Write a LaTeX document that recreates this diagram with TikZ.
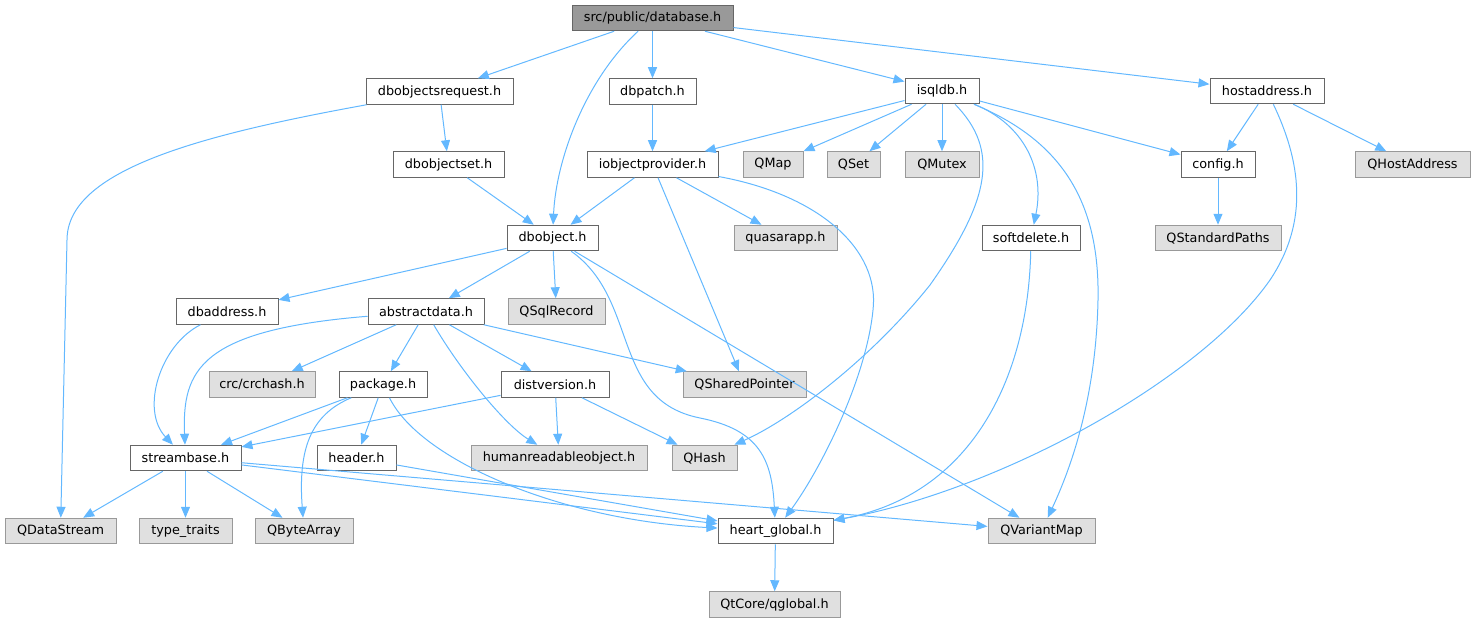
\documentclass[tikz,border=0pt]{standalone}
\usepackage{fontspec}
\setmainfont{DejaVu Sans}
\usetikzlibrary{arrows.meta}
\definecolor{edgeblue}{HTML}{63B8FF}
\definecolor{boxline}{HTML}{666666}
\definecolor{extline}{HTML}{999999}
\definecolor{extfill}{HTML}{E0E0E0}
\definecolor{mainfill}{HTML}{999999}
\begin{document}
\begin{tikzpicture}[x=1pt,y=-1pt]

		\tikzstyle{every node}=[font=\fontsize{12.8}{15}\selectfont]
		\tikzstyle{file}=[draw=boxline,fill=white,line width=1pt,minimum height=25.5pt,inner sep=0pt]
		\tikzstyle{main}=[file,fill=mainfill]
		\tikzstyle{ext}=[file,draw=extline,fill=extfill]
		\tikzstyle{dep}=[draw=edgeblue,line width=1pt,-{Triangle[length=11pt,width=9pt]}]

		\useasboundingbox (0,0) rectangle (1475,623);

		% top rows
		\node[main,minimum width=161pt] (dbh) at (652.5,18) {src/public/database.h};
		\node[file,minimum width=147pt] (dbreq) at (439.5,91.5) {dbobjectsrequest.h};
		\node[file,minimum width=87pt] (dbpatch) at (652.5,91.5) {dbpatch.h};
		\node[file,minimum width=74pt] (isqldb) at (942,91) {isqldb.h};
		\node[file,minimum width=114pt] (hostaddr) at (1267,91) {hostaddress.h};

		\node[file,minimum width=111pt] (dbset) at (448.5,164.5) {dbobjectset.h};
		\node[file,minimum width=131pt] (iobjprov) at (652.5,164.5) {iobjectprovider.h};
		\node[ext,minimum width=60pt] (qmap) at (773,164.5) {QMap};
		\node[ext,minimum width=53pt] (qset) at (853.5,164.5) {QSet};
		\node[ext,minimum width=74pt] (qmutex) at (942,164.5) {QMutex};
		\node[file,minimum width=74pt] (config) at (1218,164.5) {config.h};
		\node[ext,minimum width=115pt] (qhostaddr) at (1412.5,164.5) {QHostAddress};

		\node[file,minimum width=91pt] (dbobj) at (552.5,238) {dbobject.h};
		\node[ext,minimum width=103pt] (quasar) at (785.5,238) {quasarapp.h};
		\node[file,minimum width=98pt] (softdel) at (1031,238) {softdelete.h};
		\node[ext,minimum width=126pt] (qstdpaths) at (1218,238) {QStandardPaths};

		% middle rows
		\node[file,minimum width=102pt] (dbaddr) at (227,311.5) {dbaddress.h};
		\node[file,minimum width=116pt] (absdata) at (426,311.5) {abstractdata.h};
		\node[ext,minimum width=97pt] (qsqlrec) at (556.5,311.5) {QSqlRecord};

		\node[ext,minimum width=106pt] (crchash) at (262,384.5) {crc/crchash.h};
		\node[file,minimum width=88pt] (package) at (383,384.5) {package.h};
		\node[file,minimum width=108pt] (distver) at (555,384.5) {distversion.h};
		\node[ext,minimum width=123pt] (qsharedptr) at (744.5,384.5) {QSharedPointer};

		\node[file,minimum width=111pt] (streambase) at (185.5,458) {streambase.h};
		\node[file,minimum width=79pt] (header) at (356.5,458) {header.h};
		\node[ext,minimum width=176pt] (humread) at (559,458) {humanreadableobject.h};
		\node[ext,minimum width=65pt] (qhash) at (704.5,458) {QHash};

		% bottom rows
		\node[ext,minimum width=111pt] (qdatastream) at (60.5,531) {QDataStream};
		\node[ext,minimum width=93pt] (typetraits) at (185.5,531) {type\_traits};
		\node[ext,minimum width=98pt] (qbytearray) at (304,531) {QByteArray};
		\node[file,minimum width=115pt] (heart) at (775.5,531) {heart\_global.h};
		\node[ext,minimum width=107pt] (qvariantmap) at (1041.5,531) {QVariantMap};
		\node[ext,minimum width=131pt] (qglobal) at (774.5,604.5) {QtCore/qglobal.h};

		% database.h
		\draw[dep] (dbh) -- (dbreq);
		\draw[dep] (dbh) .. controls (585,80) and (556,160) .. (dbobj);
		\draw[dep] (dbh) -- (dbpatch);
		\draw[dep] (dbh) -- (isqldb);
		\draw[dep] (dbh) -- (hostaddr);

		\draw[dep] (dbreq) -- (dbset);
		\draw[dep] (dbreq) .. controls (200,135) and (67,170) .. (67,240) -- (qdatastream);
		\draw[dep] (dbpatch) -- (iobjprov);
		\draw[dep] (dbset) -- (dbobj);

		% iobjectprovider.h
		\draw[dep] (iobjprov) -- (dbobj);
		\draw[dep] (iobjprov) -- (quasar);
		\draw[dep] (iobjprov) -- (qsharedptr);
		\draw[dep] (iobjprov) .. controls (820,195) and (880,250) .. (873,310) .. controls (866,380) and (820,470) .. (heart);

		% isqldb.h
		\draw[dep] (isqldb) -- (iobjprov);
		\draw[dep] (isqldb) -- (qmap);
		\draw[dep] (isqldb) -- (qset);
		\draw[dep] (isqldb) -- (qmutex);
		\draw[dep] (isqldb) .. controls (1000,150) and (990,200) .. (930,285) .. controls (870,360) and (790,420) .. (qhash);
		\draw[dep] (isqldb) .. controls (1025,125) and (1045,170) .. (softdel);
		\draw[dep] (isqldb) .. controls (1060,140) and (1100,200) .. (1098,300) .. controls (1096,400) and (1070,470) .. (qvariantmap);
		\draw[dep] (isqldb) -- (config);

		% hostaddress.h
		\draw[dep] (hostaddr) -- (config);
		\draw[dep] (hostaddr) -- (qhostaddr);
		\draw[dep] (hostaddr) .. controls (1300,160) and (1310,220) .. (1270,280) .. controls (1200,380) and (1000,490) .. (heart);
		\draw[dep] (config) -- (qstdpaths);
		\draw[dep] (softdel) .. controls (1028,380) and (970,495) .. (heart);

		% dbobject.h
		\draw[dep] (dbobj) -- (dbaddr);
		\draw[dep] (dbobj) -- (absdata);
		\draw[dep] (dbobj) -- (qsqlrec);
		\draw[dep] (dbobj) .. controls (640,300) and (610,400) .. (700,418) .. controls (760,430) and (772,460) .. (heart);
		\draw[dep] (dbobj) -- (qvariantmap);

		\draw[dep] (dbaddr) .. controls (160,345) and (140,410) .. (streambase);

		% abstractdata.h
		\draw[dep] (absdata) .. controls (200,330) and (182,370) .. (streambase);
		\draw[dep] (absdata) -- (crchash);
		\draw[dep] (absdata) -- (package);
		\draw[dep] (absdata) .. controls (460,370) and (505,425) .. (humread);
		\draw[dep] (absdata) -- (distver);
		\draw[dep] (absdata) -- (qsharedptr);

		% package.h
		\draw[dep] (package) -- (streambase);
		\draw[dep] (package) .. controls (310,415) and (298,450) .. (qbytearray);
		\draw[dep] (package) -- (header);
		\draw[dep] (package) .. controls (420,460) and (560,520) .. (heart);

		\draw[dep] (distver) -- (streambase);
		\draw[dep] (distver) -- (humread);
		\draw[dep] (distver) -- (qhash);

		% streambase.h
		\draw[dep] (streambase) -- (qdatastream);
		\draw[dep] (streambase) -- (typetraits);
		\draw[dep] (streambase) -- (qbytearray);
		\draw[dep] (streambase) -- (heart);
		\draw[dep] (streambase) -- (qvariantmap);

		\draw[dep] (header) -- (heart);
		\draw[dep] (heart) -- (qglobal);

\end{tikzpicture}
\end{document}
